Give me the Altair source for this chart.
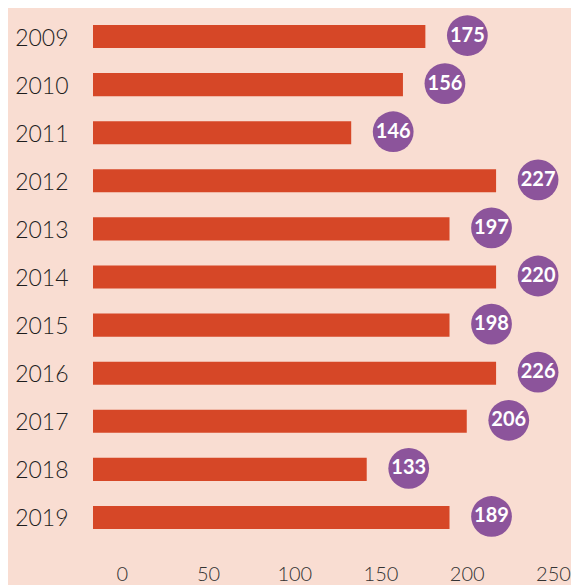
import altair as alt
import pandas as pd

years = ["2009", "2010", "2011", "2012", "2013", "2014", "2015", "2016", "2017", "2018", "2019"]
bar_values = [176, 163, 133, 217, 190, 217, 190, 217, 200, 142, 190]
label_values = [175, 156, 146, 227, 197, 220, 198, 226, 206, 133, 189]
x_ticks = [0, 50, 100, 150, 200, 250]
bar_start = -16.7

df = pd.DataFrame({"year": years, "bar": bar_values, "label": label_values})

BG = "#F9DDD2"
BAR = "#D64727"
PURPLE = "#8C549B"
FONT = "Lato"

y_enc = alt.Y(
    "year:N",
    sort=years,
    scale=alt.Scale(paddingInner=0.52, paddingOuter=0.353),
    axis=alt.Axis(title=None, domain=False, ticks=False, labelFontSize=23,
                  labelPadding=25, labelColor="#1e1e1e", labelFont=FONT,
                  labelFontWeight=300, labelOffset=2),
)
x_enc = alt.X(
    "bar:Q",
    stack=None,
    scale=alt.Scale(domain=[bar_start, 250], nice=False, zero=False),
    axis=alt.Axis(values=x_ticks, title=None, grid=False, domain=False, ticks=False,
                  labelFontSize=20, labelPadding=18, labelColor="#333333",
                  labelFont=FONT, labelFontWeight=300, labelFlush=False),
)

base = alt.Chart(df)

bars = base.mark_bar(color=BAR).encode(x=x_enc, x2=alt.datum(bar_start), y=y_enc)

circles = base.mark_circle(size=1662, color=PURPLE, opacity=1, xOffset=42, yOffset=-1).encode(
    x="bar:Q", y=alt.Y("year:N", sort=years)
)

texts = base.mark_text(color="white", fontWeight="bold", fontSize=20, font=FONT,
                       xOffset=42, yOffset=-1, align="center", baseline="middle").encode(
    x="bar:Q", y=alt.Y("year:N", sort=years), text="label:Q"
)

chart = (
    alt.layer(bars, circles, texts)
    .properties(width=460, height=538, autosize="none",
                padding={"left": 85, "top": 0, "right": 18, "bottom": 60})
    .configure(background=BG)
    .configure_view(stroke=None)
)

chart.save("out.html", embed_options={"renderer": "svg", "actions": False})
